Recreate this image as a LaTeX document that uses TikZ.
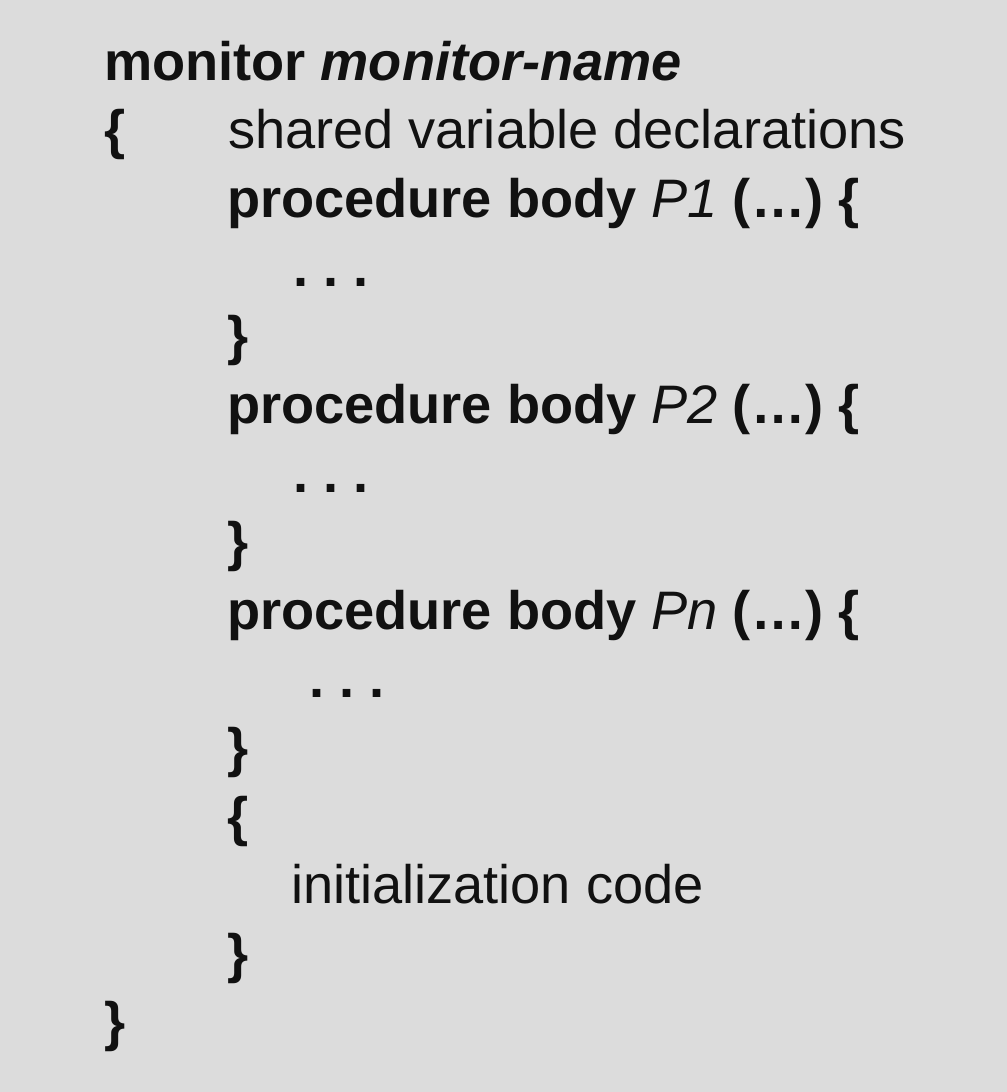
\documentclass[tikz,border=0pt]{standalone}
\usepackage{fontspec}
\setmainfont{Liberation Sans}
\definecolor{bgcol}{HTML}{DCDCDC}
\definecolor{ink}{HTML}{111111}
\tikzset{
  txt/.style={inner sep=0pt, outer sep=0pt, anchor=base west, text=ink,
    font=\fontsize{54.2bp}{60bp}\selectfont\frenchspacing},
  kw/.style={txt, font=\fontsize{54.2bp}{60bp}\selectfont\frenchspacing\bfseries}
}
\begin{document}
\begin{tikzpicture}[x=1bp,y=-1bp]
\fill[bgcol] (0,0) rectangle (1007,1092);
\useasboundingbox (0,0) rectangle (1007,1092);
\node[kw] (l0) at (104,80) {monitor {\itshape monitor-name}};
\node[kw] (ob) at (104,148.6) {\{};
\node[txt] (sv) at (228,148.6) {shared variable declarations};
\node[kw] (p1) at (227,217) {procedure body {\mdseries\itshape P1} (\ldots) \{};
\node[kw] (d1) at (293,286) {. . .};
\node[kw] (c1) at (227,354) {\}};
\node[kw] (p2) at (227,423) {procedure body {\mdseries\itshape P2} (\ldots) \{};
\node[kw] (d2) at (293,492) {. . .};
\node[kw] (c2) at (227,560) {\}};
\node[kw] (pn) at (227,629) {procedure body {\mdseries\itshape Pn} (\ldots) \{};
\node[kw] (d3) at (309,697) {. . .};
\node[kw] (c3) at (227,766) {\}};
\node[kw] (oi) at (227,835) {\{};
\node[txt] (ini) at (291,903) {initialization code};
\node[kw] (ci) at (227,972) {\}};
\node[kw] (cb) at (104,1040) {\}};
\end{tikzpicture}
\end{document}
